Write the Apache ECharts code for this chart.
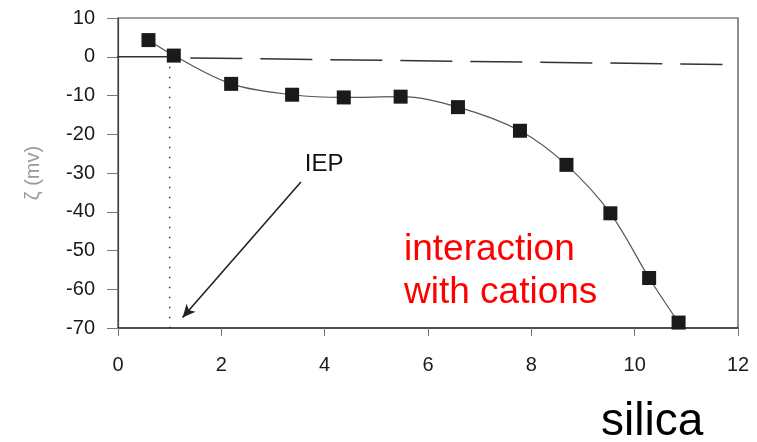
<!DOCTYPE html>
<html>
<head>
<meta charset="utf-8">
<script src="https://cdn.jsdelivr.net/npm/echarts@6/dist/echarts.min.js"></script>
<style>html,body{margin:0;padding:0;background:#fff;}#c{width:757px;height:442px;}</style>
</head>
<body>
<div id="c"></div>
<script>
// Data
var silicaX = [0.59, 1.08, 2.19, 3.37, 4.37, 5.47, 6.58, 7.78, 8.68, 9.53, 10.28, 10.85];
var zetaY   = [4.3, 0.3, -7.0, -9.8, -10.5, -10.3, -13.0, -19.1, -27.9, -40.4, -57.1, -68.6];
var dashedRef = [[1.4, -0.3], [11.7, -2.0]];
var zeroSeg = [[-0.2, 0], [1.08, 0]];
var iepLine = [[1.0, 0], [1.0, -70]];
var arrowFrom = [3.54, -32.3];
var arrowTo = [1.25, -67.3];
var iepLabelPos = [3.99, -27.85];
var xTicks = [0, 2, 4, 6, 8, 10, 12];
var yTicks = [-70, -60, -50, -40, -30, -20, -10, 0, 10];

var pts = silicaX.map(function (x, i) { return [x, zetaY[i]]; });
var chart = echarts.init(document.getElementById('c'));
var fontFam = '"Liberation Sans", Arial, sans-serif';
chart.setOption({
  animation: false,
  backgroundColor: '#fff',
  grid: { left: 118, right: 19, top: 18, bottom: 114, show: true, borderColor: '#444', borderWidth: 1.2 },
  xAxis: {
    type: 'value', min: xTicks[0], max: xTicks[xTicks.length - 1], interval: 2,
    axisLine: { onZero: false, lineStyle: { color: '#333', width: 1.5 } },
    axisTick: { show: true, length: 8, lineStyle: { color: '#777' } },
    axisLabel: { margin: 27, fontSize: 20, color: '#1a1a1a', fontFamily: fontFam },
    splitLine: { show: false }
  },
  yAxis: {
    type: 'value', min: yTicks[0], max: yTicks[yTicks.length - 1], interval: 10,
    name: 'ζ (mv)', nameLocation: 'middle', nameGap: 75, nameRotate: 90,
    nameTextStyle: { color: '#999', fontSize: 20, fontFamily: fontFam },
    axisLine: { lineStyle: { color: '#444', width: 1.2 } },
    axisTick: { show: true, length: 11, lineStyle: { color: '#777' } },
    axisLabel: { margin: 23, fontSize: 20, color: '#1a1a1a', fontFamily: fontFam },
    splitLine: { show: false }
  },
  series: [
    {
      type: 'line', data: zeroSeg, symbol: 'none', silent: true,
      lineStyle: { color: '#333', width: 1.5 }
    },
    {
      type: 'line', data: dashedRef, symbol: 'none', silent: true,
      lineStyle: { color: '#333', width: 1.5, type: [52, 18] }
    },
    {
      type: 'line', data: iepLine, symbol: 'none', silent: true,
      lineStyle: { color: '#333', width: 1.5, type: [1.5, 8.5] }
    },
    {
      type: 'line', data: pts, smooth: 0.35, symbol: 'rect', symbolSize: 14,
      itemStyle: { color: '#1a1a1a' },
      lineStyle: { color: '#555', width: 1.2 },
      markLine: {
        silent: true, symbol: ['none', 'arrow'], symbolSize: [9, 13],
        label: { show: false },
        lineStyle: { color: '#222', width: 1.6, type: 'solid' },
        data: [[{ coord: arrowFrom }, { coord: arrowTo }]]
      }
    },
    {
      type: 'scatter', data: [iepLabelPos], symbolSize: 0, silent: true,
      itemStyle: { opacity: 1 },
      label: { show: true, position: 'inside', formatter: 'IEP', fontSize: 24, color: '#111', textBorderWidth: 0, fontFamily: fontFam }
    }
  ],
  graphic: [
    { type: 'text', left: 404, top: 231, style: { text: 'interaction', fill: '#ff0000', font: '37px "Liberation Sans", Arial, sans-serif' } },
    { type: 'text', left: 404, top: 274, style: { text: 'with cations', fill: '#ff0000', font: '37px "Liberation Sans", Arial, sans-serif' } },
    { type: 'text', left: 601, top: 399, style: { text: 'silica', fill: '#000', font: '46px "Liberation Sans", Arial, sans-serif' } }
  ]
});
</script>
</body>
</html>
